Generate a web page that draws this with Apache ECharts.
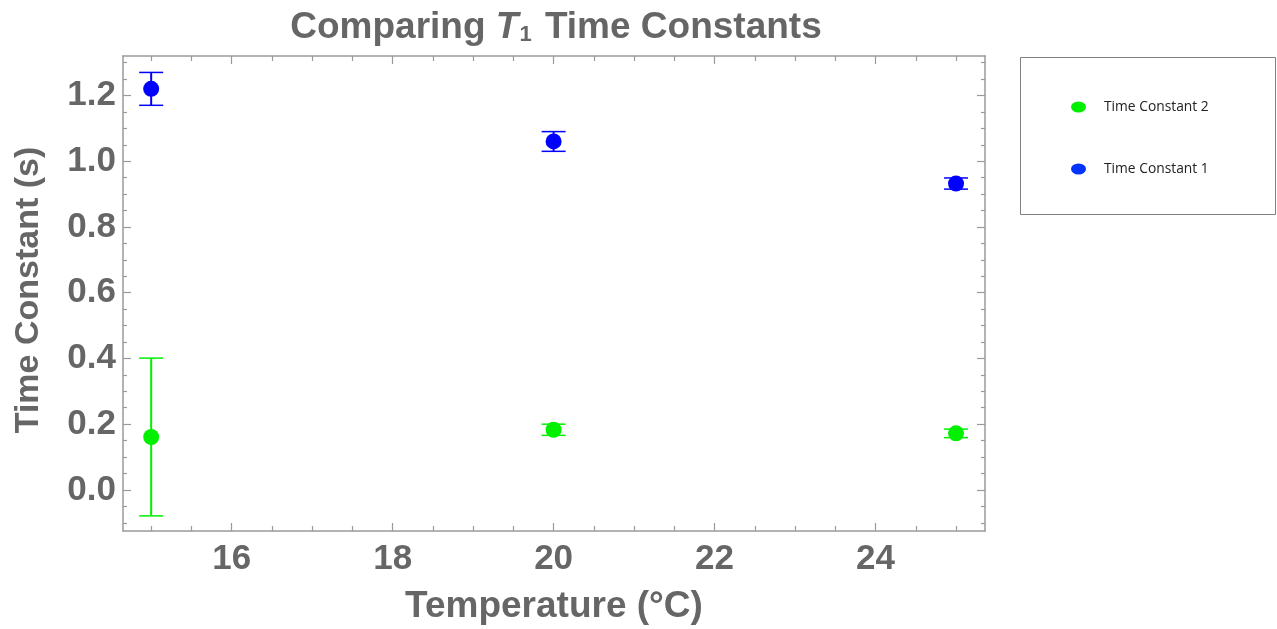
<!DOCTYPE html>
<html>
<head>
<meta charset="utf-8">
<title>Comparing T1 Time Constants</title>
<script src="https://cdn.jsdelivr.net/npm/echarts@6/dist/echarts.min.js"></script>
<style>
  html, body { margin: 0; padding: 0; background: #ffffff; }
  #chart { width: 1277px; height: 629px; }
</style>
</head>
<body>
<div id="chart"></div>
<script>
// Measured time constants (s) at each temperature (°C), with their uncertainties
const temperatures = [15, 20, 25];
const tc1Values = [1.22, 1.06, 0.932];
const tc1Errors = [0.05, 0.03, 0.017];
const tc2Values = [0.161, 0.183, 0.172];
const tc2Errors = [0.24, 0.017, 0.013];

// Axis ranges and labelled tick positions
const xRange = [14.65, 25.36];
const yRange = [-0.125, 1.32];
const xTickLabels = [16, 18, 20, 22, 24];
const yTickLabels = [0, 0.2, 0.4, 0.6, 0.8, 1.0, 1.2];

// Unlabelled minor ticks: every 0.5 °C on x, every 0.05 s on y
const xMinorTicks = [];
for (let k = 30; k <= 50; k++) {
  const v = k / 2;
  if (xTickLabels.indexOf(v) < 0) xMinorTicks.push(v);
}
const yMinorTicks = [];
for (let k = -2; k <= 26; k++) {
  const v = Math.round(k * 5) / 100;
  if (!yTickLabels.some(t => Math.abs(t - v) < 1e-9)) yMinorTicks.push(v);
}

const GREEN = '#00f000';
const BLUE = '#0000ff';
const FRAME = '#9a9a9a';
const TEXT = '#666666';
const FONT = '"Liberation Sans", Arial, sans-serif';

function pairs(xs, ys, es) {
  return xs.map((x, i) => es ? [x, ys[i], es[i]] : [x, ys[i]]);
}

// Vertical error bar with end caps, placed through the axis scales
function errorBar(color) {
  return function (params, api) {
    const x = api.value(0), y = api.value(1), e = api.value(2);
    const lo = api.coord([x, y - e]);
    const hi = api.coord([x, y + e]);
    const cap = 12;
    return {
      type: 'group',
      children: [
        { type: 'line', shape: { x1: lo[0], y1: lo[1], x2: hi[0], y2: hi[1] },
          style: { stroke: color, lineWidth: 2 } },
        { type: 'line', shape: { x1: hi[0] - cap, y1: hi[1], x2: hi[0] + cap, y2: hi[1] },
          style: { stroke: color, lineWidth: 1.5 } },
        { type: 'line', shape: { x1: lo[0] - cap, y1: lo[1], x2: lo[0] + cap, y2: lo[1] },
          style: { stroke: color, lineWidth: 1.5 } }
      ]
    };
  };
}

function xAxisDef(position, ticks, len, labelled) {
  return {
    type: 'value', position: position, min: xRange[0], max: xRange[1],
    name: labelled ? 'Temperature (°C)' : '',
    nameLocation: 'middle', nameGap: 57,
    nameTextStyle: { color: TEXT, fontSize: 37, fontWeight: 'bold', fontFamily: FONT },
    axisLine: { show: len === 8, onZero: false, lineStyle: { color: FRAME, width: 1.5 } },
    axisTick: { show: true, inside: true, length: len, customValues: ticks,
                lineStyle: { color: FRAME, width: 1.2 } },
    axisLabel: { show: labelled, customValues: ticks, margin: 11,
                 color: TEXT, fontSize: 35, fontWeight: 'bold', fontFamily: FONT },
    splitLine: { show: false }
  };
}

function yAxisDef(position, ticks, len, labelled) {
  return {
    type: 'value', position: position, min: yRange[0], max: yRange[1],
    name: labelled ? 'Time Constant (s)' : '',
    nameLocation: 'middle', nameGap: 77,
    nameTextStyle: { color: TEXT, fontSize: 34, fontWeight: 'bold', fontFamily: FONT,
                     padding: [0, 0, 0, 7] },
    axisLine: { show: len === 8, onZero: false, lineStyle: { color: FRAME, width: 1.5 } },
    axisTick: { show: true, inside: true, length: len, customValues: ticks,
                lineStyle: { color: FRAME, width: 1.2 } },
    axisLabel: { show: labelled, customValues: ticks, margin: 7,
                 formatter: v => v.toFixed(1),
                 color: TEXT, fontSize: 35, fontWeight: 'bold', fontFamily: FONT },
    splitLine: { show: false }
  };
}

const legendIcon = 'path://M0 5A7.5 5.5 0 1 0 15 5A7.5 5.5 0 1 0 0 5Z';

const chart = echarts.init(document.getElementById('chart'), null,
                           { renderer: 'canvas', width: 1277, height: 629 });
chart.setOption({
  animation: false,
  backgroundColor: '#ffffff',
  title: {
    text: 'Comparing {i|T}{sub|1} Time Constants',
    left: 551, textAlign: 'center', top: 4,
    textStyle: {
      color: TEXT, fontSize: 37, fontWeight: 'bold', fontFamily: FONT,
      rich: {
        i: { color: TEXT, fontSize: 37, fontWeight: 'bold', fontStyle: 'italic', fontFamily: FONT },
        sub: { color: TEXT, fontSize: 22, fontWeight: 'bold', fontFamily: FONT,
               verticalAlign: 'bottom', padding: [15, 3, 0, 1] }
      }
    }
  },
  grid: { left: 123, right: 292, top: 56, bottom: 98, outerBoundsMode: 'none' },
  xAxis: [
    xAxisDef('bottom', xTickLabels, 8, true),
    xAxisDef('bottom', xMinorTicks, 5, false),
    xAxisDef('top', xTickLabels, 8, false),
    xAxisDef('top', xMinorTicks, 5, false)
  ],
  yAxis: [
    yAxisDef('left', yTickLabels, 8, true),
    yAxisDef('left', yMinorTicks, 4, false),
    yAxisDef('right', yTickLabels, 8, false),
    yAxisDef('right', yMinorTicks, 4, false)
  ],
  legend: {
    orient: 'vertical', left: 1066, top: 95,
    itemWidth: 15, itemHeight: 11, itemGap: 48,
    data: [
      { name: 'Time Constant 2', icon: legendIcon, itemStyle: { color: GREEN } },
      { name: 'Time Constant 1', icon: legendIcon, itemStyle: { color: '#0033ff' } }
    ],
    textStyle: { color: '#222222', fontSize: 13.8, fontFamily: '"Open Sans", sans-serif',
                 padding: [0, 0, 0, 13] },
    selectedMode: false
  },
  graphic: [{
    type: 'rect',
    shape: { x: 1020.5, y: 57.5, width: 255, height: 157 },
    style: { fill: 'none', stroke: '#808080', lineWidth: 1 }
  }],
  series: [
    { name: 'Time Constant 2', type: 'custom', renderItem: errorBar(GREEN),
      data: pairs(temperatures, tc2Values, tc2Errors), z: 2, silent: true },
    { name: 'Time Constant 1', type: 'custom', renderItem: errorBar(BLUE),
      data: pairs(temperatures, tc1Values, tc1Errors), z: 2, silent: true },
    { name: 'Time Constant 2', type: 'scatter', symbol: 'circle', symbolSize: 16,
      itemStyle: { color: GREEN, opacity: 1 }, data: pairs(temperatures, tc2Values), z: 3 },
    { name: 'Time Constant 1', type: 'scatter', symbol: 'circle', symbolSize: 16,
      itemStyle: { color: BLUE, opacity: 1 }, data: pairs(temperatures, tc1Values), z: 3 }
  ]
});
</script>
</body>
</html>
